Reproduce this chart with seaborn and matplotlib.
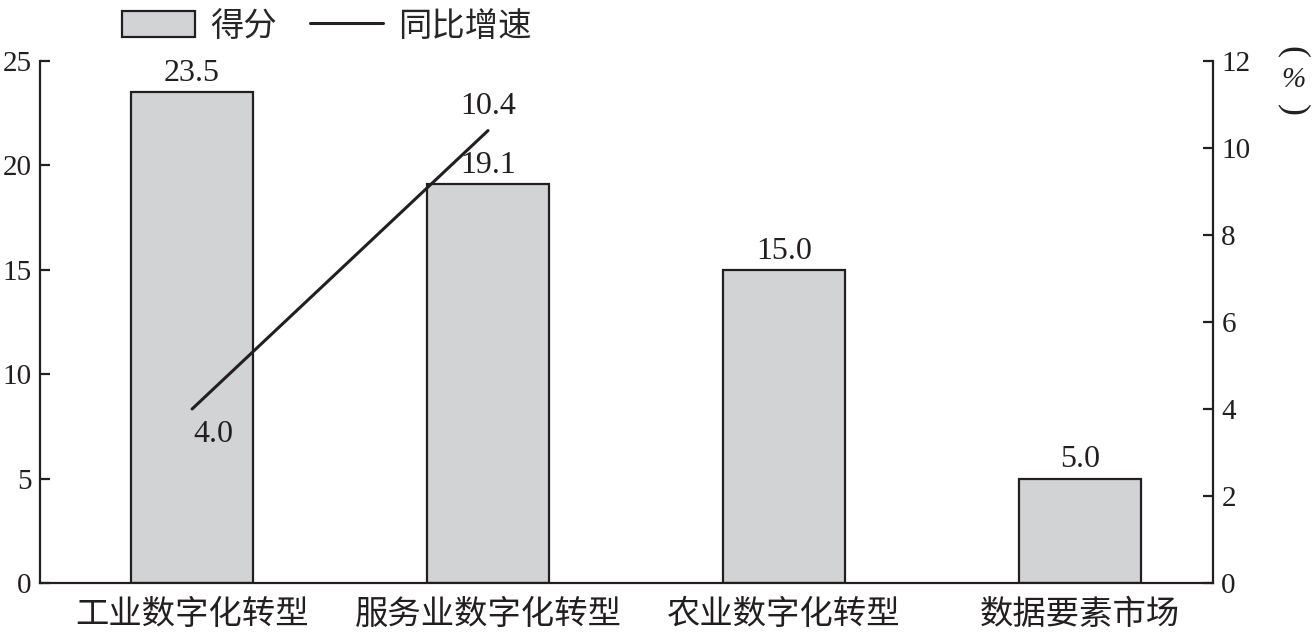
import numpy as np
import pandas as pd
import matplotlib
matplotlib.use("Agg")
import matplotlib.pyplot as plt
import seaborn as sns
from matplotlib.patches import Patch
from matplotlib.lines import Line2D

# Data
categories = ['工业数字化转型', '服务业数字化转型', '农业数字化转型', '数据要素市场']
scores = [23.5, 19.1, 15.0, 5.0]
growth_cats = ['工业数字化转型', '服务业数字化转型']
growth = [4.0, 10.4]
left_ticks = [0, 5, 10, 15, 20, 25]
right_ticks = [0, 2, 4, 6, 8, 10, 12]

sns.set_style("white")
plt.rcParams['font.family'] = ['Liberation Serif', 'Noto Sans CJK SC', 'DejaVu Sans']

bar_color = '#d2d3d5'
ink = '#231f20'

fig = plt.figure(figsize=(13.12, 6.32), dpi=100)
ax = fig.add_axes([40 / 1312, 1 - 583 / 632, (1213 - 40) / 1312, (583 - 61) / 632])

df = pd.DataFrame({'cat': categories, 'score': scores})
sns.barplot(data=df, x='cat', y='score', order=categories, color=bar_color,
            edgecolor=ink, linewidth=1.6, width=0.41, saturation=1, ax=ax)

ax.set_xlim(-0.514, 3.45)
ax.set_ylim(0, 25)
ax.set_yticks(left_ticks)
ax.set_xlabel('')
ax.set_ylabel('')

# bar value labels
for i, v in enumerate(scores):
    ax.annotate(f'{v:.1f}', (i, v), xytext=(0, 3), textcoords='offset points',
                ha='center', va='bottom', fontsize=23, color=ink)

# right axis: growth line
ax2 = ax.twinx()
gx = [categories.index(c) for c in growth_cats]
sns.lineplot(x=gx, y=growth, color=ink, linewidth=2.2, ax=ax2)
ax2.set_ylim(0, 12)
ax2.set_yticks(right_ticks)
ax2.set_xlim(-0.514, 3.45)

ax2.annotate(f'{growth[0]:.1f}', (gx[0], growth[0]), xytext=(15, -18),
             textcoords='offset points', ha='center', va='center', fontsize=23, color=ink)
ax2.annotate(f'{growth[1]:.1f}', (gx[1], growth[1]), xytext=(0, 17),
             textcoords='offset points', ha='center', va='center', fontsize=23, color=ink)

# spines and ticks
for a in (ax, ax2):
    a.spines['top'].set_visible(False)
    for s in ('left', 'right', 'bottom'):
        a.spines[s].set_linewidth(1.6)
        a.spines[s].set_color(ink)
ax.spines['right'].set_visible(False)
ax2.spines['left'].set_visible(False)
ax2.spines['bottom'].set_visible(False)

ax.set_xticks(range(len(categories)))
ax.set_xticklabels(categories, fontsize=24, color=ink)
ax.set_xticks([0.5, 1.5, 2.5], minor=True)
ax.tick_params(axis='x', which='major', length=0, pad=12)
ax.tick_params(axis='x', which='minor', direction='in', length=7, width=1.6, color=ink)
ax.tick_params(axis='y', direction='in', length=7, width=1.6, color=ink,
               labelsize=21, labelcolor=ink, pad=6)
ax2.tick_params(axis='y', direction='in', length=7, width=1.6, color=ink,
                labelsize=21, labelcolor=ink, pad=6)

# vertical unit label: rotated brackets with an upright % between them
ux = 1293 / 1312
fig.text(ux, 1 - 52 / 632, '(', ha='center', va='center', fontsize=26,
         color=ink, rotation=-90)
fig.text(ux, 1 - 80 / 632, '%', ha='center', va='center', fontsize=21,
         color=ink, style='italic')
fig.text(ux, 1 - 110 / 632, ')', ha='center', va='center', fontsize=26,
         color=ink, rotation=-90)

# legend
handles = [Patch(facecolor=bar_color, edgecolor=ink, linewidth=1.6, label='得分'),
           Line2D([0], [0], color=ink, linewidth=2.2, label='同比增速')]
fig.legend(handles=handles, loc='upper center', bbox_to_anchor=(0.249, 1.03), ncol=2,
           frameon=False, fontsize=24, handlelength=2.2, handleheight=0.82,
           columnspacing=1.0, handletextpad=0.45)

fig.savefig('out.png', dpi=100)
